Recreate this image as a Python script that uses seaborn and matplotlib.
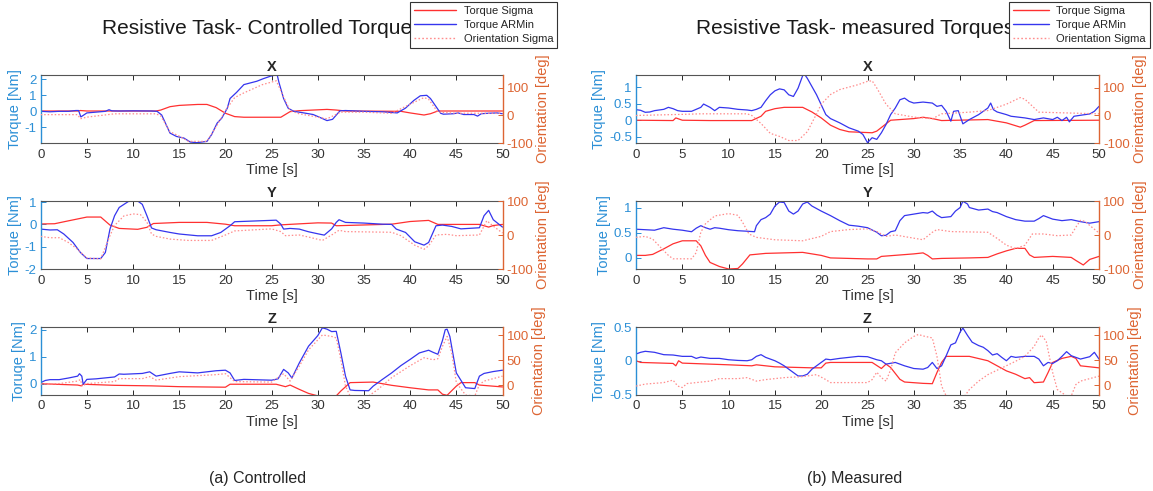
import matplotlib
matplotlib.use('Agg')
import matplotlib.pyplot as plt
import seaborn as sns
from matplotlib.lines import Line2D
from matplotlib.ticker import FixedLocator, FuncFormatter

sns.set_style('white')
plt.rcParams['font.family'] = ['Liberation Sans', 'DejaVu Sans']

# ---------------- data (time [s], value) ----------------
# Controlled torque - X
ctrl_x_arm = [(0,0),(1,-0.03),(2,0.0),(3,0.0),(3.8,0.05),(4.1,0.05),(4.35,-0.35),(5,-0.1),(6,-0.05),(7,0.0),(7.4,0.1),(7.7,0.03),(8.5,0.02),(10,0.03),(12,0.02),(12.6,0.0),(13.1,-0.23),(14.0,-1.36),(14.7,-1.57),(15.5,-1.67),(16.2,-1.92),(16.9,-1.96),(18.0,-1.88),(18.5,-1.46),(19.1,-0.74),(19.6,-0.43),(20.2,0.19),(20.5,0.8),(21.2,1.18),(22.0,1.67),(23.4,1.88),(24.1,2.04),(24.9,2.2),(25.6,2.29),(25.8,1.8),(26.3,0.8),(26.8,0.19),(27.4,0.0),(28.5,-0.1),(29.5,-0.2),(30.3,-0.4),(31.0,-0.58),(31.6,-0.5),(32.4,0.03),(33,0.05),(35,0.0),(37,-0.03),(38.6,-0.1),(39.5,0.2),(40.4,0.68),(41.1,0.97),(41.8,1.0),(42.2,0.8),(43.3,-0.12),(43.6,-0.18),(44.7,-0.15),(45.2,-0.1),(45.8,-0.2),(46.9,-0.2),(47.3,-0.3),(47.7,-0.15),(48.5,-0.12),(49.4,-0.1),(50,-0.15)]
ctrl_x_sig = [(0,0.02),(4,0.02),(4.3,0.05),(5,0.02),(12.5,0.02),(13,0.08),(14,0.29),(15,0.37),(17,0.43),(18,0.43),(19,0.23),(20,-0.12),(21,-0.33),(22,-0.37),(26,-0.37),(27,-0.02),(28,0.04),(31,0.12),(32,0.08),(33,0.02),(39,0.0),(40,-0.1),(41.5,-0.23),(42.2,-0.15),(43,0.02),(50,0.02)]
ctrl_x_ori = [(0,3),(4,3),(4.3,-12),(5,-6),(8,6),(12.5,6),(13,-2),(14,-59),(15,-75),(16,-94),(18,-94),(19,-41),(20,18),(21,65),(22,82),(24,112),(25.5,126),(26.5,53),(27,18),(28,6),(30,-6),(31,-12),(32.5,12),(35,12),(38,8),(40,41),(41.5,65),(42,59),(43,12),(45,8),(50,8)]

# Controlled torque - Y
ctrl_y_arm = [(0,-0.21),(1,-0.25),(1.8,-0.24),(2.5,-0.43),(3.5,-0.81),(4.3,-1.26),(5,-1.53),(6.5,-1.53),(7,-1.26),(7.5,-0.21),(8,0.39),(8.5,0.76),(9.5,1.03),(10.5,1.05),(11,0.9),(11.5,0.39),(12,-0.16),(12.5,-0.24),(14,-0.36),(15,-0.43),(17,-0.51),(18.5,-0.51),(19.5,-0.36),(20.5,-0.06),(21,0.12),(25.5,0.19),(26,0.01),(26.3,-0.21),(27,-0.18),(28,-0.21),(29,-0.33),(30,-0.42),(30.7,-0.48),(31.5,-0.2),(32,0.09),(32.3,0.21),(33,0.09),(35,0.06),(37,0.01),(38,0.0),(38.5,-0.21),(39.5,-0.36),(40.5,-0.78),(41.5,-0.93),(42,-0.81),(42.8,-0.06),(43.5,-0.03),(44.5,-0.09),(45.5,-0.2),(47.5,-0.15),(48,0.39),(48.5,0.63),(49,0.21),(50,-0.12)]
ctrl_y_sig = [(0,0.02),(1.5,0.03),(3,0.16),(5,0.33),(6.5,0.33),(7.5,-0.03),(8.5,-0.18),(10.5,-0.22),(11.5,-0.13),(12.2,0.04),(15,0.09),(18,0.09),(20,0.01),(21,-0.06),(25,-0.06),(26,-0.02),(30,0.07),(31.5,0.06),(32,-0.06),(38,0.01),(40,0.13),(42,0.18),(43,0.0),(47.5,0.0),(48.5,-0.12),(49,-0.05),(50,0.0)]
ctrl_y_ori = [(0,-4),(1,-8),(2,-8),(3,-22),(4,-42),(5,-68),(6.5,-70),(7.5,-2),(8,28),(9,56),(10,62),(10.8,60),(11.5,38),(12,3),(12.5,-4),(14,-12),(16,-16),(18.5,-16),(20,0),(21,12),(25,18),(26,10),(26.5,-2),(28,0),(29,-6),(30.5,-16),(31.5,0),(32.3,14),(33,10),(38,8),(39,-2),(40.5,-30),(41.5,-42),(42,-32),(42.8,0),(44,2),(45,-2),(47.5,0),(48.3,42),(49,26),(50,6)]

# Controlled torque - Z
ctrl_z_arm = [(0,0.04),(0.5,0.12),(1,0.15),(2,0.15),(3,0.21),(4,0.28),(4.2,0.37),(4.45,0.28),(4.6,-0.02),(5,0.16),(6,0.18),(8,0.25),(8.5,0.36),(9,0.35),(11,0.38),(11.8,0.44),(12.5,0.28),(14,0.38),(15,0.44),(17,0.40),(19,0.48),(20,0.5),(20.5,0.4),(21,0.12),(22,0.16),(25,0.13),(25.7,0.18),(26.3,0.53),(26.8,0.4),(27.2,0.21),(28,0.77),(29,1.39),(30,1.78),(30.5,2.07),(31,2.02),(31.5,1.93),(32,1.94),(32.5,1.14),(33,0.28),(33.5,-0.23),(34,-0.25),(35.5,-0.26),(36,-0.09),(37,0.16),(38,0.40),(39,0.67),(40,0.9),(41,1.14),(42,1.24),(42.5,1.16),(43,1.09),(43.5,1.6),(43.8,2.0),(44,2.02),(44.3,1.75),(45,0.4),(46,-0.15),(47,-0.18),(47.5,0.28),(48,0.38),(49,0.45),(50,0.5)]
ctrl_z_sig = [(0,0.0),(4,-0.05),(4.4,-0.08),(4.6,-0.02),(8,-0.06),(12,-0.08),(15,-0.11),(20,-0.13),(20.5,-0.02),(25.5,-0.02),(26.5,-0.11),(27,-0.05),(28,-0.21),(29,-0.36),(30,-0.45),(32,-0.45),(32.5,-0.27),(33.5,0.04),(36,0.06),(38,-0.06),(40,-0.15),(42,-0.23),(43,-0.23),(43.5,-0.39),(44,-0.43),(45,-0.09),(45.5,0.04),(47,0.04),(47.5,-0.05),(50,-0.12)]
ctrl_z_ori = [(0,2),(2,3),(4,8),(4.3,11),(4.5,-2),(5,3),(8,7),(8.5,13),(11,13),(11.8,17),(12.5,10),(15,17),(19,21),(20,23),(21,7),(25,6),(26.3,23),(27,8),(28,38),(29,71),(30,91),(30.5,101),(31.5,98),(32,95),(32.5,51),(33,-2),(33.5,-22),(35.5,-22),(36.5,-9),(38,15),(40,39),(41.5,55),(42.5,51),(43,53),(43.5,78),(44,98),(44.5,65),(45,5),(46,-20),(47,-22),(47.5,1),(48,8),(50,18)]

# Measured torques - X
meas_x_arm = [(0,0.32),(0.5,0.3),(1,0.24),(1.5,0.25),(2,0.29),(3,0.33),(3.5,0.39),(4,0.35),(4.5,0.29),(5,0.27),(6,0.27),(7,0.39),(7.3,0.49),(8,0.39),(8.5,0.29),(9,0.39),(10,0.37),(11,0.33),(12,0.31),(12.5,0.29),(13,0.33),(13.5,0.39),(14,0.59),(14.5,0.77),(15,0.89),(15.5,0.95),(16,0.92),(16.5,0.77),(17,0.72),(17.5,0.97),(18,1.35),(18.2,1.39),(18.5,1.27),(19,1.02),(19.5,0.77),(20,0.47),(20.5,0.17),(21,0.05),(22,-0.08),(23,-0.23),(24,-0.33),(24.5,-0.43),(25,-0.68),(25.5,-0.53),(26,-0.58),(26.5,-0.38),(27,-0.13),(27.5,0.17),(28,0.37),(28.5,0.62),(29,0.67),(29.5,0.57),(30,0.52),(31,0.55),(32,0.52),(32.5,0.42),(33,0.45),(33.5,0.27),(34,-0.03),(34.3,0.27),(34.8,0.29),(35.3,-0.11),(36,0.02),(37,0.17),(38,0.37),(38.3,0.52),(38.6,0.32),(39,0.25),(40,0.17),(40.5,0.12),(42,0.07),(43,0.02),(44,0.07),(45,0.02),(45.5,0.09),(46,-0.01),(46.5,0.09),(46.8,-0.05),(47.3,0.12),(48,0.15),(49,0.19),(49.5,0.27),(50,0.42)]
meas_x_sig = [(0,0.0),(4,-0.01),(4.3,0.07),(5,0.0),(8,-0.01),(12.5,-0.01),(13.5,0.12),(14,0.27),(15,0.35),(16,0.39),(18,0.39),(19,0.25),(20,0.07),(21,-0.15),(22,-0.28),(23,-0.35),(25.5,-0.38),(26,-0.33),(27,-0.11),(27.5,0.0),(30,0.05),(31,0.09),(32,0.05),(33,-0.01),(38,0.02),(40,-0.08),(41.5,-0.21),(42,-0.15),(43,-0.01),(50,0.0)]
meas_x_ori = [(0,0),(5,4),(7,6),(12,6),(12.5,0),(13.5,-29),(14.5,-65),(15.5,-76),(16.5,-91),(17.5,-91),(18.5,-59),(19.5,6),(20,41),(21,76),(22,94),(24,112),(25,124),(25.5,126),(26,100),(27,41),(28,6),(30,-6),(32,-12),(33,6),(36,12),(38,18),(40,41),(41.5,65),(42,59),(43.5,12),(50,6)]

# Measured torques - Y
meas_y_arm = [(0,0.57),(1,0.56),(2,0.55),(3,0.6),(4,0.57),(5,0.55),(6,0.52),(6.5,0.59),(7,0.64),(7.5,0.6),(8,0.57),(8.5,0.6),(9,0.59),(10,0.56),(11,0.54),(12,0.53),(12.8,0.52),(13,0.64),(13.5,0.76),(14,0.8),(14.5,0.87),(15,1.03),(15.5,1.11),(16,1.10),(16.5,0.93),(17,0.87),(17.5,0.93),(18,1.07),(18.5,1.11),(19,1.03),(20,0.93),(21,0.84),(22,0.74),(23,0.65),(24,0.63),(25,0.6),(26,0.51),(26.5,0.44),(27,0.45),(27.5,0.52),(28,0.54),(28.5,0.74),(29,0.84),(30,0.87),(31,0.9),(31.5,0.89),(32,0.93),(32.5,0.85),(33,0.8),(34,0.82),(34.5,0.93),(35,1.0),(35.3,1.125),(35.8,1.07),(36,1.0),(37,0.95),(38,0.97),(38.5,0.92),(39,0.9),(40,0.82),(41,0.76),(42,0.73),(43,0.73),(43.5,0.78),(44,0.84),(45,0.77),(46,0.74),(47,0.76),(48,0.72),(49,0.69),(50,0.72)]
meas_y_sig = [(0,0.05),(1,0.05),(1.8,0.07),(3,0.18),(4,0.28),(5,0.34),(6.5,0.34),(7,0.24),(7.5,0.05),(8,-0.09),(9,-0.17),(10,-0.22),(11,-0.21),(11.5,-0.12),(12.3,0.06),(14,0.09),(18,0.11),(20,0.05),(21,0.0),(25,-0.02),(26,-0.02),(26.5,0.03),(30,0.08),(31,0.1),(31.5,0.05),(32,-0.02),(33,-0.01),(36,0.0),(38,0.01),(39,0.08),(40,0.14),(41,0.19),(42,0.19),(42.5,0.06),(43,0.01),(45,0.03),(47,0.01),(47.5,-0.05),(48.3,-0.14),(49,-0.03),(50,0.03)]
meas_y_ori = [(0,-7),(1,-4),(1.8,-12),(2.5,-32),(3.5,-60),(4,-70),(6,-70),(6.5,-52),(7,8),(7.5,33),(8.5,56),(10,63),(11,58),(11.5,38),(12.2,3),(13,-7),(15,-14),(18,-17),(20,-4),(21,10),(23,16),(25,18),(26,10),(27,-4),(28,0),(31,-14),(32,8),(32.5,16),(34,10),(38,8),(39,-10),(40,-30),(41,-40),(42,-30),(42.8,3),(44,3),(45.5,-2),(47,0),(47.5,23),(48,43),(48.5,40),(49,28),(50,6)]

# Measured torques - Z
meas_z_arm = [(0,0.1),(0.5,0.125),(1,0.14),(2,0.125),(3,0.09),(4,0.085),(5,0.065),(6,0.065),(6.5,0.035),(7,0.055),(8,0.035),(9,0.035),(10,0.015),(11,0.005),(12,0.0),(12.5,0.015),(13,0.065),(13.5,0.09),(14,0.05),(15,0.0),(15.5,-0.035),(16,-0.075),(17,-0.175),(17.5,-0.225),(18,-0.225),(18.5,-0.2),(19,-0.125),(20,-0.025),(20.5,0.025),(21,0.015),(22,0.035),(23,0.05),(24,0.065),(25,0.06),(26,0.015),(26.5,0.0),(27,-0.05),(28,-0.025),(29,-0.075),(30,-0.115),(31,-0.125),(31.5,-0.1),(32,-0.025),(32.5,-0.115),(33,-0.075),(33.5,0.075),(34,0.235),(34.5,0.265),(35,0.425),(35.3,0.485),(35.8,0.375),(36.3,0.275),(37,0.225),(37.5,0.2),(38,0.15),(38.5,0.085),(39,0.105),(39.5,0.05),(40,0.0),(40.5,0.065),(41,0.05),(42,0.065),(43,0.065),(43.5,0.025),(44,-0.075),(44.5,-0.025),(45,-0.04),(45.5,0.0),(46,0.065),(46.5,0.135),(47,0.075),(47.5,0.05),(48,0.025),(49,0.06),(49.5,0.125),(50,0.025)]
meas_z_sig = [(0,0.0),(0.5,-0.025),(4,-0.04),(4.3,-0.075),(4.6,0.0),(5,-0.035),(10,-0.06),(12.5,-0.075),(13,-0.06),(15,-0.09),(19,-0.105),(20,-0.105),(20.5,-0.035),(21,-0.025),(25.5,-0.025),(26.5,-0.115),(27,-0.05),(27.5,-0.1),(28.5,-0.275),(29,-0.315),(31,-0.335),(32,-0.34),(32.5,-0.175),(33,-0.025),(33.5,0.065),(36,0.065),(38,0.0),(39,-0.075),(40,-0.15),(41,-0.2),(42,-0.265),(42.5,-0.25),(43,-0.325),(44,-0.315),(44.5,-0.175),(45,-0.025),(46,0.035),(47,0.065),(47.5,0.035),(48,-0.075),(50,-0.105)]
meas_z_ori = [(0,-2),(1,2),(3,5),(4,10),(4.5,-2),(5,-5),(5.5,3),(7,6),(8,8),(9,13),(11,13),(12,15),(13,8),(14,11),(16,15),(18,17),(19.5,21),(20.5,11),(21,5),(25,5),(25.5,11),(26,26),(26.5,15),(27,8),(27.5,31),(28,65),(29,85),(30,98),(30.5,102),(31,99),(32,95),(32.5,58),(33,-2),(33.5,-22),(35.5,-22),(36,-9),(37,8),(38,21),(40,39),(41,48),(42,58),(43,78),(43.5,95),(43.8,101),(44.3,88),(45,25),(45.5,-9),(46.5,-22),(47,-22),(47.5,1),(48,8),(50,18)]

x_ticks = [0, 5, 10, 15, 20, 25, 30, 35, 40, 45, 50]
legend_labels = ['Torque Sigma', 'Torque ARMin', 'Orientation Sigma']
column_titles = ['Resistive Task- Controlled Torque', 'Resistive Task- measured Torques']
captions = ['(a) Controlled', '(b) Measured']

# ---------------- style ----------------
RED = '#ff3030'
BLUE = '#3535ee'
ORI = '#ff8c8c'
AX_BLUE = '#2b8fd6'
AX_ORANGE = '#dd6533'
DARK = '#262626'

fig = plt.figure(figsize=(11.53, 4.91), dpi=100)
W, H = 1153.0, 491.0


def rect(x0, x1, ytop, ybot):
    return [x0 / W, 1 - ybot / H, (x1 - x0) / W, (ybot - ytop) / H]


def fmt(v, _):
    return ('%g' % v)


def panel(r, title, arm, sig, ori, ylim_l, yt_l, ylim_r, yt_r, ylabel):
    ax = fig.add_axes(r)
    axr = ax.twinx()
    sx, sy = zip(*sig)
    bx, by = zip(*arm)
    ox, oy = zip(*ori)
    sns.lineplot(x=list(sx), y=list(sy), ax=ax, color=RED, lw=0.9)
    sns.lineplot(x=list(bx), y=list(by), ax=ax, color=BLUE, lw=0.9)
    sns.lineplot(x=list(ox), y=list(oy), ax=axr, color=ORI, lw=0.9,
                 linestyle=(0, (1.2, 1.6)))
    ax.set_xlim(0, 50)
    ax.set_ylim(*ylim_l)
    axr.set_ylim(*ylim_r)
    ax.xaxis.set_major_locator(FixedLocator(x_ticks))
    ax.yaxis.set_major_locator(FixedLocator(yt_l))
    ax.yaxis.set_major_formatter(FuncFormatter(fmt))
    axr.yaxis.set_major_locator(FixedLocator(yt_r))
    axr.yaxis.set_major_formatter(FuncFormatter(fmt))
    ax.tick_params(axis='x', direction='in', top=True, bottom=True, length=3.5,
                   width=0.7, color=DARK, labelcolor='#333333', labelsize=9.5, pad=4)
    ax.tick_params(axis='y', direction='in', left=True, right=False, length=3.5,
                   width=0.7, colors=AX_BLUE, labelsize=9.5, pad=3)
    axr.tick_params(axis='y', direction='in', right=True, left=False, length=3.5,
                    width=0.7, colors=AX_ORANGE, labelsize=9.5, pad=3)
    for s in ['top', 'bottom']:
        ax.spines[s].set_color('#555555')
        ax.spines[s].set_linewidth(0.8)
        axr.spines[s].set_visible(False)
    ax.spines['left'].set_color(AX_BLUE)
    ax.spines['left'].set_linewidth(1.0)
    ax.spines['right'].set_visible(False)
    axr.spines['left'].set_visible(False)
    axr.spines['right'].set_color(AX_ORANGE)
    axr.spines['right'].set_linewidth(1.0)
    ax.set_xlabel('Time [s]', fontsize=10.5, color='#333333', labelpad=2)
    ax.set_ylabel(ylabel, fontsize=10.5, color=AX_BLUE, labelpad=2)
    axr.set_ylabel('Orientation [deg]', fontsize=10.5, color=AX_ORANGE, labelpad=2)
    ax.set_title(title, fontsize=10.5, fontweight='bold', pad=3)
    return ax


# column geometry (pixels)
cols = [(40.7, 502.5), (636.0, 1099.0)]
rows = [(75, 143), (201, 269), (327, 394.5)]

panel(rect(*cols[0], *rows[0]), 'X', ctrl_x_arm, ctrl_x_sig, ctrl_x_ori,
      (-1.98, 2.27), [-1, 0, 1, 2], (-100, 147), [-100, 0, 100], 'Torque [Nm]')
panel(rect(*cols[0], *rows[1]), 'Y', ctrl_y_arm, ctrl_y_sig, ctrl_y_ori,
      (-2, 1.05), [-2, -1, 0, 1], (-100, 100), [-100, 0, 100], 'Torque [Nm]')
panel(rect(*cols[0], *rows[2]), 'Z', ctrl_z_arm, ctrl_z_sig, ctrl_z_ori,
      (-0.4, 2.1), [0, 1, 2], (-19, 117), [0, 50, 100], 'Toruqe [Nm]')
panel(rect(*cols[1], *rows[0]), 'X', meas_x_arm, meas_x_sig, meas_x_ori,
      (-0.69, 1.37), [-0.5, 0, 0.5, 1], (-100, 147), [-100, 0, 100], 'Torque [Nm]')
panel(rect(*cols[1], *rows[1]), 'Y', meas_y_arm, meas_y_sig, meas_y_ori,
      (-0.22, 1.13), [0, 0.5, 1], (-100, 100), [-100, 0, 100], 'Torque [Nm]')
panel(rect(*cols[1], *rows[2]), 'Z', meas_z_arm, meas_z_sig, meas_z_ori,
      (-0.5, 0.5), [-0.5, 0, 0.5], (-19, 117), [0, 50, 100], 'Torque [Nm]')

# column titles and captions
fig.text(257 / W, 1 - 29 / H, column_titles[0], ha='center', va='center',
         fontsize=15, color='#1a1a1a')
fig.text(855 / W, 1 - 29 / H, column_titles[1], ha='center', va='center',
         fontsize=15, color='#1a1a1a')
fig.text(258 / W, 1 - 478 / H, captions[0], ha='center', va='center', fontsize=11.5)
fig.text(855 / W, 1 - 478 / H, captions[1], ha='center', va='center', fontsize=11.5)

# legends
handles = [Line2D([], [], color=RED, lw=1.0),
           Line2D([], [], color=BLUE, lw=1.0),
           Line2D([], [], color=ORI, lw=1.0, linestyle=(0, (1.2, 1.6)))]
for anchor_x, loc, hl in ((410, 'upper left', 3.8), (1150, 'upper right', 3.2)):
    leg = fig.legend(handles, legend_labels, loc=loc,
                     bbox_to_anchor=(anchor_x / W, 1 - 2 / H), fontsize=8,
                     handlelength=hl, handletextpad=0.7, labelspacing=0.35,
                     borderpad=0.35, borderaxespad=0, fancybox=False,
                     framealpha=1, edgecolor='#333333')
    leg.get_frame().set_linewidth(0.8)

fig.savefig('out.png', dpi=100)
